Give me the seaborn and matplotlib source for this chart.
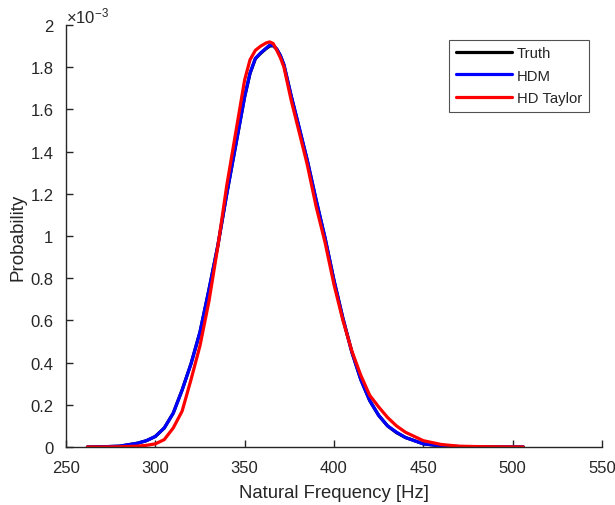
import numpy as np
import pandas as pd
import matplotlib
matplotlib.use("Agg")
import matplotlib.pyplot as plt
import seaborn as sns

# Natural frequency grid [Hz]
freq = [262, 270, 280, 290, 295, 300, 305, 310, 315, 320, 325, 330, 335, 340,
        345, 350, 353, 356, 359, 362, 364, 366, 368, 370, 372, 376, 380, 385,
        390, 395, 400, 405, 410, 415, 420, 425, 430, 435, 440, 450, 460, 470,
        480, 490, 506]

# Probability values (x 1e-3)
truth = [0.0, 0.001, 0.004, 0.018, 0.030, 0.050, 0.090, 0.160, 0.270, 0.395,
         0.545, 0.745, 0.955, 1.200, 1.430, 1.660, 1.770, 1.840, 1.866, 1.888,
         1.900, 1.902, 1.885, 1.855, 1.810, 1.665, 1.530, 1.360, 1.170, 0.990,
         0.790, 0.610, 0.450, 0.320, 0.220, 0.150, 0.100, 0.068, 0.045, 0.015,
         0.005, 0.002, 0.001, 0.0, 0.0]
hdm = [0.0, 0.001, 0.004, 0.018, 0.030, 0.050, 0.090, 0.160, 0.270, 0.395,
       0.545, 0.745, 0.955, 1.200, 1.430, 1.660, 1.772, 1.842, 1.868, 1.890,
       1.905, 1.903, 1.886, 1.856, 1.812, 1.667, 1.532, 1.362, 1.172, 0.992,
       0.790, 0.610, 0.450, 0.320, 0.220, 0.150, 0.100, 0.070, 0.045, 0.015,
       0.005, 0.002, 0.001, 0.0, 0.0]
hd_taylor = [0.0, 0.0, 0.001, 0.004, 0.008, 0.015, 0.035, 0.090, 0.170, 0.320,
             0.480, 0.690, 0.950, 1.240, 1.490, 1.740, 1.835, 1.880, 1.900, 1.915,
             1.920, 1.912, 1.880, 1.845, 1.800, 1.645, 1.510, 1.340, 1.140, 0.970,
             0.770, 0.600, 0.455, 0.340, 0.245, 0.190, 0.140, 0.100, 0.070, 0.030,
             0.012, 0.004, 0.002, 0.001, 0.0]

series_names = ["Truth", "HDM", "HD Taylor"]
series_colors = ["#000000", "#0000FF", "#FF0000"]

xticks = [250, 300, 350, 400, 450, 500, 550]
yticks = [0, 0.2, 0.4, 0.6, 0.8, 1, 1.2, 1.4, 1.6, 1.8, 2]
ytick_labels = ["0", "0.2", "0.4", "0.6", "0.8", "1", "1.2", "1.4", "1.6", "1.8", "2"]

df = pd.concat([
    pd.DataFrame({"freq": freq, "prob": vals, "series": name})
    for name, vals in zip(series_names, [truth, hdm, hd_taylor])
], ignore_index=True)

sns.set_theme(style="ticks")
plt.rcParams["font.family"] = ["Liberation Sans", "DejaVu Sans"]
plt.rcParams["mathtext.fontset"] = "custom"
plt.rcParams["mathtext.rm"] = "Liberation Sans"
plt.rcParams["mathtext.it"] = "Liberation Sans"

fig = plt.figure(figsize=(6.15, 5.06), dpi=100)
ax = fig.add_axes([0.1073, 0.1146, 0.8715, 0.834])

sns.lineplot(data=df, x="freq", y="prob", hue="series", hue_order=series_names,
             palette=series_colors, linewidth=2.3, ax=ax, sort=False,
             estimator=None)
for ln in ax.get_lines():
    ln.set_solid_joinstyle("round")
    ln.set_solid_capstyle("round")

ax.set_xlim(250, 550)
ax.set_ylim(0, 2)
ax.set_xticks(xticks)
ax.set_xticklabels([str(t) for t in xticks])
ax.set_yticks(yticks)
ax.set_yticklabels(ytick_labels)

dark = "#262626"
for s in ["top", "right"]:
    ax.spines[s].set_visible(False)
for s in ["left", "bottom"]:
    ax.spines[s].set_color(dark)
    ax.spines[s].set_linewidth(1.0)
ax.tick_params(direction="in", length=5, width=1.0, colors=dark,
               labelsize=12, labelcolor=dark)
ax.tick_params(axis="x", pad=9)
ax.tick_params(axis="y", pad=9)

ax.set_xlabel("Natural Frequency [Hz]", fontsize=13.3, color=dark, labelpad=7)
ax.set_ylabel("Probability", fontsize=13.5, color=dark, labelpad=3)

ax.text(0.0, 1.0, r"$\times 10^{-3}$", transform=ax.transAxes,
        fontsize=12, color=dark, ha="left", va="bottom")

leg = ax.legend(loc="upper right", bbox_to_anchor=(0.975, 0.965), frameon=True,
                fancybox=False, edgecolor=dark, fontsize=10.7, handlelength=3.8,
                handletextpad=0.3, borderpad=0.45, labelspacing=0.55,
                borderaxespad=0.0)
leg.get_frame().set_linewidth(0.8)
leg.set_title(None)
for line in leg.get_lines():
    line.set_linewidth(2.3)

fig.savefig("out.png", dpi=100)
